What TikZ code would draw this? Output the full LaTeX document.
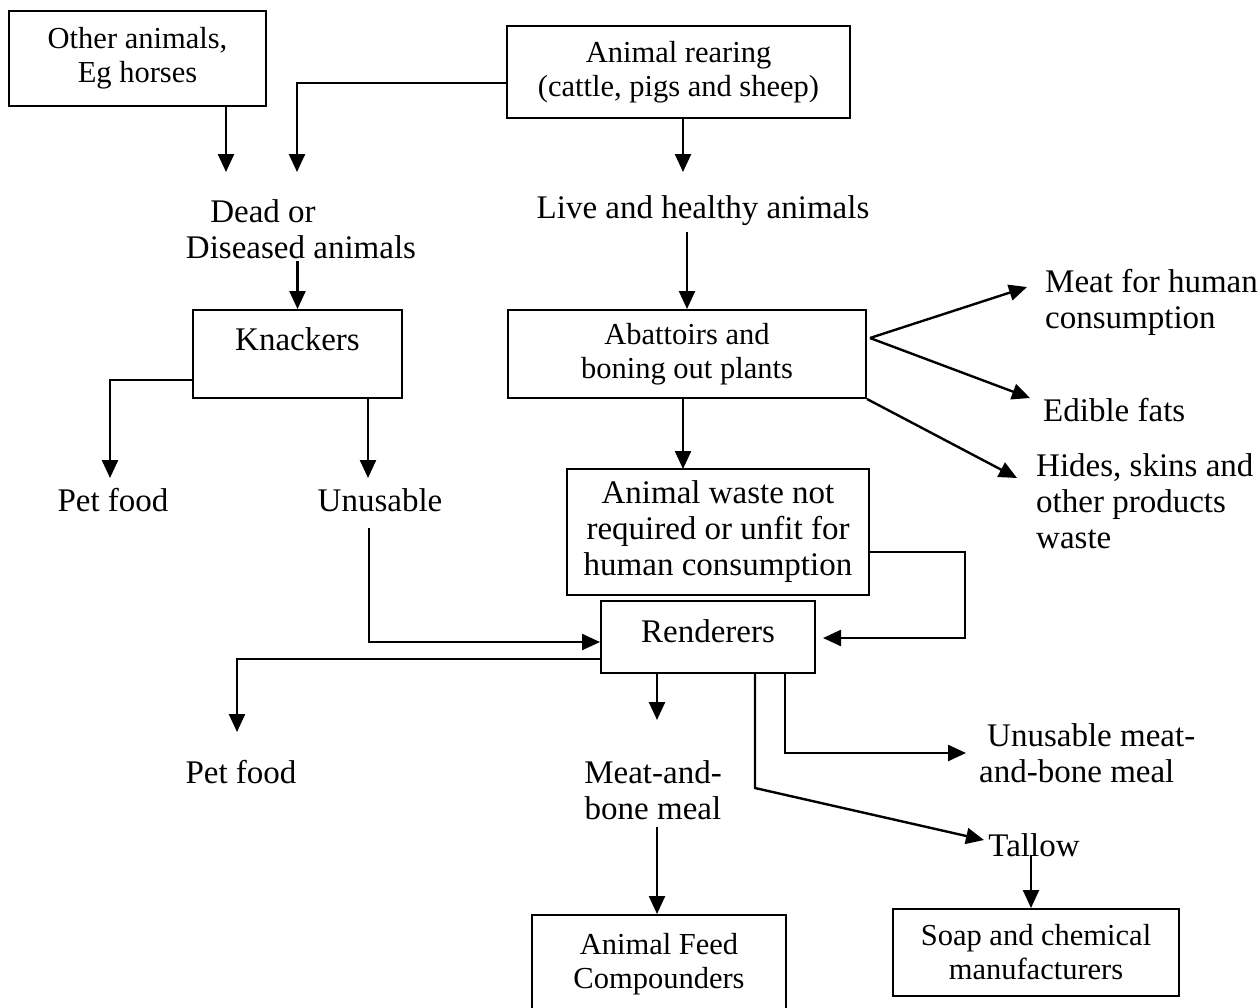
\documentclass[tikz,border=0pt]{standalone}
\usepackage{fontspec}
\setmainfont{Liberation Serif}
\usetikzlibrary{arrows.meta}
\begin{document}
\begin{tikzpicture}[x=1pt,y=-1pt,
  box/.style={draw, line width=2pt, align=center, inner sep=0pt},
  lbl/.style={align=center, inner sep=0pt},
  lbll/.style={align=left, inner sep=0pt, anchor=west},
  conn/.style={line width=2.4pt, -{Triangle[length=18pt,width=16pt]}},
  big/.style={font=\fontsize{33}{36}\selectfont},
  med/.style={font=\fontsize{30.5}{34}\selectfont}]

\useasboundingbox[fill=white] (0,0) rectangle (1260,1007);

% boxes
\node[box, med, minimum width=257pt, minimum height=95pt] (other) at (137.5,58.5) {Other animals,\\Eg horses};
\node[box, med, minimum width=343pt, minimum height=92pt] (rear) at (678.5,72) {Animal rearing\\(cattle, pigs and sheep)};
\node[box, big, minimum width=209pt, minimum height=88pt, text height=24pt, text depth=32pt] (knack) at (297.5,354) {Knackers};
\node[box, med, minimum width=358pt, minimum height=88pt] (abat) at (687,354) {Abattoirs and\\boning out plants};
\node[box, big, minimum width=302pt, minimum height=126pt] (waste) at (718,532) {Animal waste not\\required or unfit for\\human consumption};
\node[box, big, minimum width=214pt, minimum height=72pt, text height=24pt, text depth=14pt] (rend) at (708,637) {Renderers};
\node[box, med, minimum width=254pt, minimum height=98pt] (feed) at (659,964) {Animal Feed\\Compounders};
\node[box, med, minimum width=286pt, minimum height=87pt] (soap) at (1036,952.5) {Soap and chemical\\manufacturers};

% free labels
\node[lbl, big] (dead) at (301,229.5) {Dead or\rule{76pt}{0pt}\\Diseased animals};
\node[lbl, big] (live) at (703,211) {Live and healthy animals};
\node[lbll, big] (meat) at (1045,302) {Meat for human\\consumption};
\node[lbll, big] (edible) at (1043,410) {Edible fats};
\node[lbll, big] (hides) at (1036,501) {Hides, skins and\\other products\\waste};
\node[lbl, big] (petA) at (113,500) {Pet food};
\node[lbl, big] (unus) at (380,500) {Unusable};
\node[lbl, big] (petB) at (241,772) {Pet food};
\node[lbl, big] (mbm) at (653,790) {Meat-and-\\bone meal};
\node[lbll, big] (umbm) at (979,753.5) {\hspace*{8pt}Unusable meat-\\and-bone meal};
\node[lbl, big] (tallow) at (1034,845) {Tallow};

% helper coordinates (arrow ends)
\coordinate (dA) at (226,172);
\coordinate (dB) at (297,172);
\coordinate (lA) at (683,172);
\coordinate (mT) at (1027,287);
\coordinate (eT) at (1030,398);
\coordinate (hT) at (1017,478);
\coordinate (wA) at (683,469);
\coordinate (lp) at (965,552);
\coordinate (rT) at (823,638);
\coordinate (pA) at (110,478);
\coordinate (uA) at (368,478);
\coordinate (uB) at (369,528);
\coordinate (pB) at (237,732);
\coordinate (mA) at (657,720);
\coordinate (mB) at (657,827);
\coordinate (uK) at (785,753);
\coordinate (uM) at (966,753);
\coordinate (tK) at (755,788);
\coordinate (tT) at (984,840);
\coordinate (sA) at (1031,855);

% connectors
\draw[conn] (other.south -| dA) -- (dA);
\draw[conn] ([yshift=-11pt]rear.west) -| (dB);
\draw[conn] (rear.south -| lA) -- (lA);
\draw[conn, shorten <=2pt] (dead.south -| knack.north) -- (knack.north);
\draw[conn, shorten <=6pt] (live.south -| abat.north) -- (abat.north);
\draw[conn] ([xshift=3pt,yshift=16pt]abat.east) -- (mT);
\draw[conn] ([xshift=3pt,yshift=16pt]abat.east) -- (eT);
\draw[conn] (abat.south east) -- (hT);
\draw[conn] (abat.south -| wA) -- (wA);
\draw[conn] (waste.east |- lp) -- (lp) |- (rT);
\draw[conn] ([yshift=-26pt]knack.west) -| (pA);
\draw[conn] (knack.south -| uA) -- (uA);
\draw[conn] (uB) |- ([yshift=-5pt]rend.west);
\draw[conn] ([yshift=-22pt]rend.west) -| (pB);
\draw[conn] (rend.south -| mA) -- (mA);
\draw[conn] (mB) -- (feed.north -| mB);
\draw[conn] (rend.south -| uK) -- (uK) -- (uM);
\draw[conn] (rend.south -| tK) -- (tK) -- (tT);
\draw[conn] (sA) -- (soap.north -| sA);
\end{tikzpicture}
\end{document}
